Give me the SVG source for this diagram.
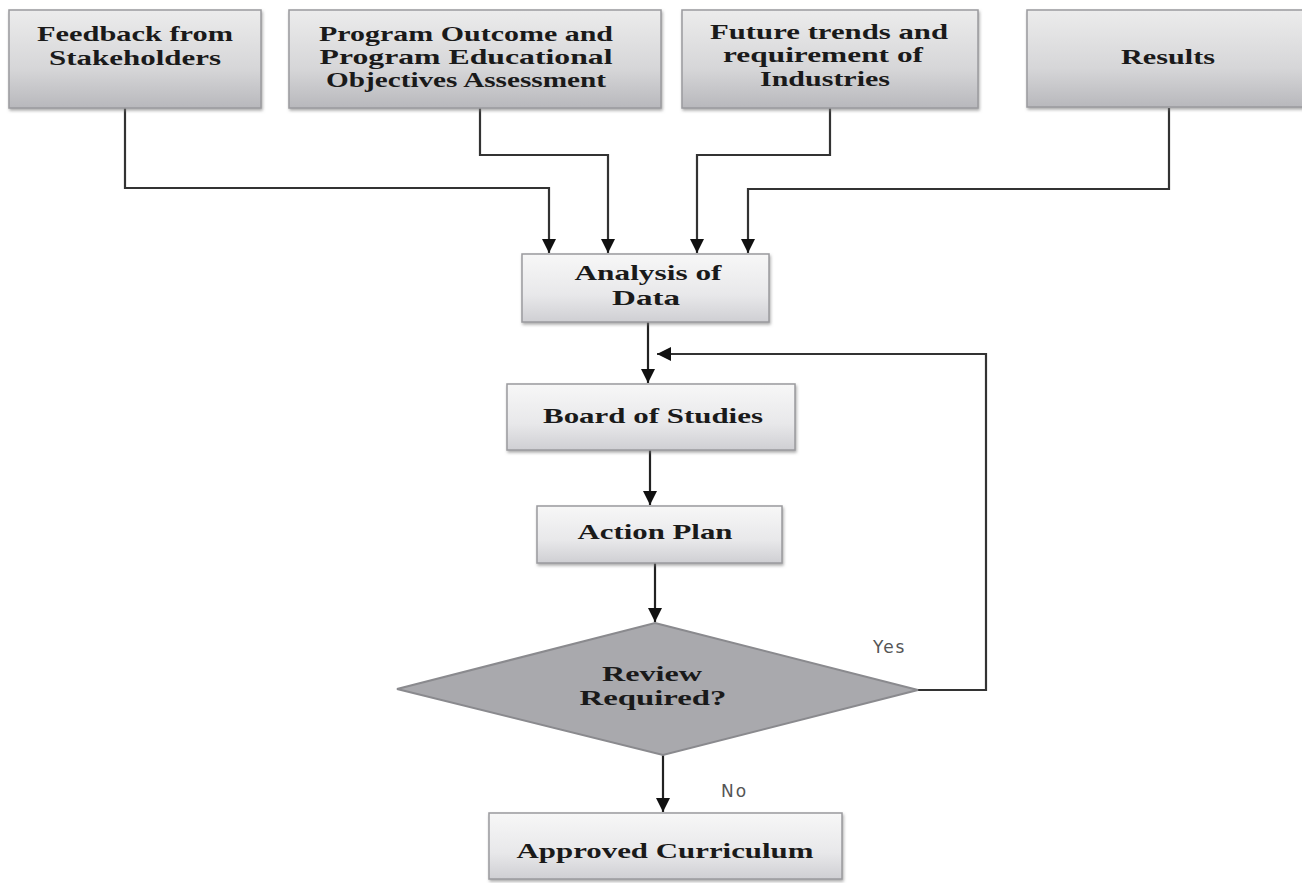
<svg xmlns="http://www.w3.org/2000/svg" width="1302" height="883" viewBox="0 0 1302 883">
  <defs>
    <linearGradient id="gTop" x1="0" y1="0" x2="0" y2="1">
      <stop offset="0" stop-color="#ececec"/>
      <stop offset="0.6" stop-color="#d6d6d8"/>
      <stop offset="1" stop-color="#b8b8bc"/>
    </linearGradient>
    <linearGradient id="gMid" x1="0" y1="0" x2="0" y2="1">
      <stop offset="0" stop-color="#f7f7f7"/>
      <stop offset="0.6" stop-color="#e8e8ea"/>
      <stop offset="1" stop-color="#cfcfd3"/>
    </linearGradient>
    <filter id="shadow" x="-5%" y="-10%" width="110%" height="125%">
      <feDropShadow dx="1" dy="2" stdDeviation="1.5" flood-color="#777" flood-opacity="0.6"/>
    </filter>
    <marker id="arrow" viewBox="0 0 10 10" refX="10" refY="5" markerWidth="14" markerHeight="14" markerUnits="userSpaceOnUse" orient="auto">
      <path d="M0,0 L10,5 L0,10 z" fill="#111"/>
    </marker>
  </defs>
  <style>
    .box { stroke: #9a9a9e; stroke-width: 1.5; filter: url(#shadow); }
    .top { fill: url(#gTop); }
    .mid { fill: url(#gMid); }
    .lbl { font-family: "Liberation Serif", "Times New Roman", serif; font-weight: bold; font-size: 22px; fill: #1a1a1a; text-anchor: middle; }
    .cond { font-family: "DejaVu Sans", "Liberation Sans", sans-serif; font-size: 17px; fill: #555; letter-spacing: 2px; }
    .link { fill: none; stroke: #222; stroke-width: 2.2; }
    .feed { fill: none; stroke: #333; stroke-width: 2.2; }
  </style>

  <rect width="1302" height="883" fill="#ffffff"/>

  <!-- connectors -->
  <g id="connectors">
    <path class="feed" d="M125,108 V188 H549 V253" marker-end="url(#arrow)"/>
    <path class="feed" d="M480,108 V155 H608 V253" marker-end="url(#arrow)"/>
    <path class="feed" d="M830,108 V155 H697 V253" marker-end="url(#arrow)"/>
    <path class="feed" d="M1169,108 V189 H748 V253" marker-end="url(#arrow)"/>
    <path class="link" d="M648,322 V383" marker-end="url(#arrow)"/>
    <path class="link" d="M650,450 V505" marker-end="url(#arrow)"/>
    <path class="link" d="M655,563 V622" marker-end="url(#arrow)"/>
    <path class="link" d="M663,755 V812" marker-end="url(#arrow)"/>
    <path class="feed" d="M918,690 H986 V354 H657" marker-end="url(#arrow)"/>
  </g>

  <!-- source boxes -->
  <g id="feedback">
    <rect class="box top" x="9" y="10" width="252" height="98"/>
    <text class="lbl" x="135" y="41" textLength="196" lengthAdjust="spacingAndGlyphs">Feedback from</text>
    <text class="lbl" x="135" y="65" textLength="172" lengthAdjust="spacingAndGlyphs">Stakeholders</text>
  </g>
  <g id="program-outcome">
    <rect class="box top" x="289" y="10" width="372" height="98"/>
    <text class="lbl" x="466" y="41" textLength="294" lengthAdjust="spacingAndGlyphs">Program Outcome and</text>
    <text class="lbl" x="466" y="64" textLength="293" lengthAdjust="spacingAndGlyphs">Program Educational</text>
    <text class="lbl" x="466" y="87" textLength="280" lengthAdjust="spacingAndGlyphs">Objectives Assessment</text>
  </g>
  <g id="future-trends">
    <rect class="box top" x="682" y="10" width="296" height="98"/>
    <text class="lbl" x="829" y="39" textLength="238" lengthAdjust="spacingAndGlyphs">Future trends and</text>
    <text class="lbl" x="823" y="62" textLength="200" lengthAdjust="spacingAndGlyphs">requirement of</text>
    <text class="lbl" x="825" y="86" textLength="130" lengthAdjust="spacingAndGlyphs">Industries</text>
  </g>
  <g id="results">
    <rect class="box top" x="1027" y="10" width="285" height="97"/>
    <text class="lbl" x="1168" y="64" textLength="94" lengthAdjust="spacingAndGlyphs">Results</text>
  </g>

  <!-- process chain -->
  <g id="analysis">
    <rect class="box mid" x="522" y="254" width="247" height="68"/>
    <text class="lbl" x="648" y="280" textLength="147" lengthAdjust="spacingAndGlyphs">Analysis of</text>
    <text class="lbl" x="646" y="305" textLength="68" lengthAdjust="spacingAndGlyphs">Data</text>
  </g>
  <g id="board">
    <rect class="box mid" x="507" y="384" width="288" height="66"/>
    <text class="lbl" x="653" y="423" textLength="220" lengthAdjust="spacingAndGlyphs">Board of Studies</text>
  </g>
  <g id="action-plan">
    <rect class="box mid" x="537" y="506" width="245" height="57"/>
    <text class="lbl" x="655" y="539" textLength="155" lengthAdjust="spacingAndGlyphs">Action Plan</text>
  </g>
  <g id="review">
    <path d="M655,623 L918,690 L663,755 L397,689 Z" fill="#a9a9ad" stroke="#8a8a8e" stroke-width="2"/>
    <text class="lbl" x="652" y="681" textLength="100" lengthAdjust="spacingAndGlyphs">Review</text>
    <text class="lbl" x="653" y="705" textLength="147" lengthAdjust="spacingAndGlyphs">Required?</text>
    <text class="cond" x="873" y="653">Yes</text>
    <text class="cond" x="721" y="797">No</text>
  </g>
  <g id="approved">
    <rect class="box mid" x="489" y="813" width="353" height="66"/>
    <text class="lbl" x="665" y="858" textLength="297" lengthAdjust="spacingAndGlyphs">Approved Curriculum</text>
  </g>
</svg>
